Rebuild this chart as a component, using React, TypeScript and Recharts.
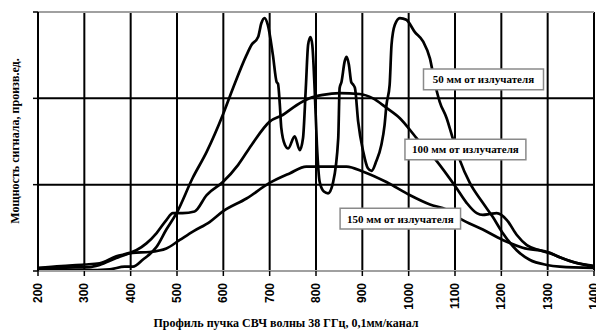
import React from 'react';
import { LineChart, Line, XAxis, YAxis, CartesianGrid, ReferenceArea, ReferenceLine } from 'recharts';

// channel numbers (0.1 mm/channel) and signal power, arb. units
const channels50 = [200, 300, 355, 387, 405, 426, 456, 477, 499, 534, 564, 599, 621, 650, 661, 675, 682, 689, 696, 707, 715, 718, 722, 725, 733, 740, 754, 765, 772, 778, 783, 788, 792, 797, 802, 808, 817, 826, 837, 848, 851, 855, 862, 866, 871, 876, 880, 884, 891, 902, 912, 920, 930, 941, 948, 952, 959, 963, 970, 981, 995, 1013, 1031, 1046, 1056, 1067, 1082, 1095, 1110, 1132, 1160, 1181, 1203, 1233, 1261, 1298, 1326, 1400];
const power50 = [0.01, 0.01, 0.02, 0.05, 0.05, 0.13, 0.28, 0.48, 0.67, 1.08, 1.38, 1.81, 2.12, 2.5, 2.62, 2.71, 2.87, 2.93, 2.85, 2.5, 2.19, 2.17, 1.92, 1.66, 1.46, 1.42, 1.56, 1.4, 1.54, 2.12, 2.62, 2.71, 2.62, 2.12, 1.46, 1.03, 0.92, 0.9, 1.03, 1.54, 2.12, 2.19, 2.43, 2.48, 2.39, 2.19, 2.16, 2.12, 1.73, 1.38, 1.19, 1.16, 1.27, 1.46, 1.69, 1.92, 2.16, 2.62, 2.85, 2.93, 2.91, 2.77, 2.66, 2.46, 2.19, 1.96, 1.77, 1.54, 1.29, 1.02, 0.79, 0.63, 0.44, 0.24, 0.13, 0.07, 0.05, 0.035];

const channels100 = [200, 250, 300, 333, 369, 398, 412, 434, 456, 477, 491, 512, 538, 564, 599, 632, 661, 700, 729, 758, 786, 815, 851, 894, 923, 952, 981, 1017, 1058, 1102, 1125, 1147, 1160, 1175, 1190, 1212, 1233, 1255, 1283, 1308, 1326, 1351, 1400];
const power100 = [0.035, 0.058, 0.075, 0.09, 0.17, 0.21, 0.24, 0.32, 0.44, 0.59, 0.67, 0.67, 0.69, 0.88, 1.03, 1.23, 1.46, 1.73, 1.81, 1.92, 2.0, 2.04, 2.06, 2.05, 2.0, 1.89, 1.77, 1.54, 1.29, 0.97, 0.79, 0.67, 0.65, 0.66, 0.67, 0.59, 0.42, 0.3, 0.24, 0.2, 0.16, 0.11, 0.06];

const channels150 = [200, 260, 312, 333, 369, 404, 441, 477, 506, 535, 571, 599, 650, 700, 743, 779, 823, 866, 902, 952, 1002, 1046, 1082, 1110, 1160, 1203, 1246, 1305, 1326, 1358, 1400];
const power150 = [0.03, 0.04, 0.046, 0.07, 0.15, 0.21, 0.22, 0.26, 0.36, 0.46, 0.57, 0.69, 0.84, 1.02, 1.13, 1.21, 1.21, 1.21, 1.15, 1.03, 0.88, 0.77, 0.71, 0.61, 0.48, 0.36, 0.27, 0.21, 0.16, 0.1, 0.05];

const xTicks = [200, 300, 400, 500, 600, 700, 800, 900, 1000, 1100, 1200, 1300, 1400];
const yTicks = [0, 1, 2, 3];
const gridX = [300, 400, 500, 600, 700, 800, 900, 1000, 1100, 1200, 1300, 1400];
const gridY = [1, 2];

const labels = [
  { text: '50 мм от излучателя', x1: 1032, x2: 1291, y1: 2.1, y2: 2.34 },
  { text: '100 мм от излучателя', x1: 992, x2: 1253, y1: 1.29, y2: 1.525 },
  { text: '150 мм от излучателя', x1: 852, x2: 1112, y1: 0.487, y2: 0.726 },
];

const toRows = (xs: number[], ys: number[]) => xs.map((x, i) => ({ x, y: ys[i] }));

const serif = '"Liberation Serif", "Times New Roman", serif';
const sans = '"Liberation Sans", Arial, sans-serif';

const ChannelTick = ({ x, y, payload }: any) => {
  const ty = y + 5;
  return (
    <text
      x={x}
      y={ty}
      transform={`rotate(-90, ${x}, ${ty})`}
      textAnchor="end"
      dominantBaseline="central"
      fontFamily={sans}
      fontWeight="bold"
      fontSize={12}
      fill="#000"
    >
      {payload.value}
    </text>
  );
};

const NoTick = () => <g />;

const App = () => {
  return (
    <div style={{ position: 'absolute', left: 0, top: 0, width: 596, height: 331, background: '#fff' }}>
      <LineChart width={596} height={331} margin={{ top: 12, right: 2, bottom: 0, left: 0 }}>
        <CartesianGrid
          stroke="#000"
          strokeWidth={2}
          horizontalValues={gridY}
          verticalValues={gridX}
        />
        <XAxis
          type="number"
          dataKey="x"
          domain={[200, 1400]}
          ticks={xTicks}
          height={60}
          tick={<ChannelTick />}
          tickSize={5}
          tickLine={{ stroke: '#000', strokeWidth: 1.5 }}
          axisLine={{ stroke: '#a0a0a0', strokeWidth: 2 }}
          interval={0}
          allowDataOverflow
          label={{
            content: () => (
              <text x={286} y={323} textAnchor="middle" dominantBaseline="central" fontFamily={serif} fontWeight="bold" fontSize={12} fill="#000">
                Профиль пучка СВЧ волны 38 ГГц, 0,1мм/канал
              </text>
            ),
          }}
        />
        <YAxis
          type="number"
          domain={[0, 3]}
          ticks={yTicks}
          width={38}
          tick={<NoTick />}
          interval={0}
          tickSize={5}
          tickLine={{ stroke: '#000', strokeWidth: 1.5 }}
          axisLine={{ stroke: '#000', strokeWidth: 2 }}
          label={{
            content: () => (
              <text x={15} y={141} transform="rotate(-90, 15, 141)" textAnchor="middle" dominantBaseline="central" fontFamily={serif} fontWeight="bold" fontSize={12} fill="#000">
                Мощность сигнала, произв.ед.
              </text>
            ),
          }}
        />
        <ReferenceLine y={3} stroke="#a0a0a0" strokeWidth={2} />
        <Line data={toRows(channels150, power150)} dataKey="y" type="monotone" stroke="#000" strokeWidth={2.7} dot={false} isAnimationActive={false} />
        <Line data={toRows(channels100, power100)} dataKey="y" type="monotone" stroke="#000" strokeWidth={2.7} dot={false} isAnimationActive={false} />
        <Line data={toRows(channels50, power50)} dataKey="y" type="monotone" stroke="#000" strokeWidth={2.7} dot={false} isAnimationActive={false} />
        {labels.map((l) => (
          <ReferenceArea
            key={l.text}
            x1={l.x1}
            x2={l.x2}
            y1={l.y1}
            y2={l.y2}
            zIndex={1500}
            fill="#fff"
            fillOpacity={1}
            stroke="#8a8a8a"
            strokeWidth={1.5}
            label={{ value: l.text, position: 'center', fill: '#000', fontSize: 11, fontWeight: 'bold', fontFamily: serif }}
          />
        ))}
      </LineChart>
    </div>
  );
};

export default App;
